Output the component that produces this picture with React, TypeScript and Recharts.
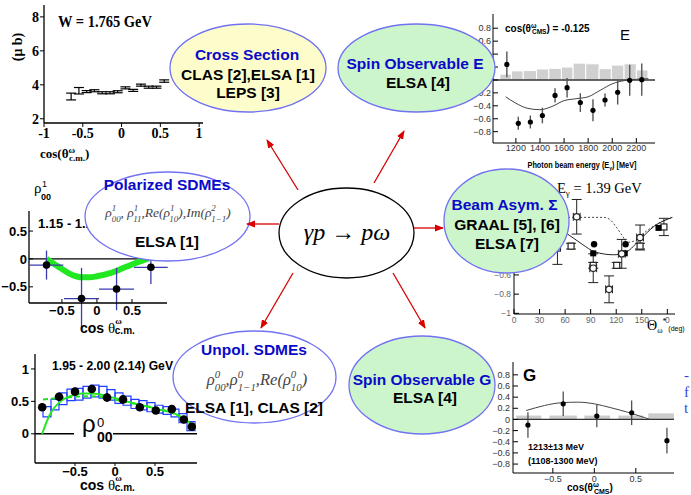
import React from "react";
import {
  ComposedChart,
  XAxis,
  YAxis,
  Line,
  Scatter,
  ErrorBar,
  ReferenceArea,
  ReferenceLine,
} from "recharts";

const SANS = "'Liberation Sans', Arial, sans-serif";
const SERIF = "'Liberation Serif', 'Times New Roman', serif";

// cross section, W = 1.765 GeV
const csCos = [-0.65, -0.55, -0.45, -0.35, -0.25, -0.15, -0.05, 0.05, 0.15, 0.25, 0.35, 0.45, 0.55];
const csVal = [3.31, 3.65, 3.6, 3.65, 3.53, 3.53, 3.59, 3.82, 3.67, 3.98, 3.86, 3.86, 4.22];
const csErr = [0.2, 0.19, 0.06, 0.06, 0.06, 0.06, 0.06, 0.06, 0.06, 0.06, 0.06, 0.06, 0.07];

// spin observable E, cos = -0.125
const eEnergy = [1125, 1220, 1320, 1420, 1525, 1625, 1735, 1840, 1940, 2045, 2145, 2245];
const eVal = [0.24, -0.67, -0.65, -0.55, -0.24, -0.12, -0.35, -0.47, -0.31, -0.19, -0.005, 0.005];
const eErr = [0.2, 0.1, 0.1, 0.12, 0.11, 0.15, 0.145, 0.17, 0.1, 0.19, 0.24, 0.25];
const eSysEdges = [1067, 1164, 1261, 1371, 1473, 1578, 1675, 1780, 1891, 1993, 2098, 2200, 2297];
const eSys = [0.09, 0.14, 0.145, 0.17, 0.18, 0.2, 0.26, 0.25, 0.175, 0.23, 0.25, 0.155];
const eModelE = [1115, 1200, 1300, 1400, 1500, 1600, 1700, 1800, 1900, 2000, 2100, 2200, 2300];
const eModel = [-0.26, -0.36, -0.44, -0.46, -0.41, -0.32, -0.29, -0.26, -0.16, -0.06, -0.01, 0.01, 0.02];

// polarized rho^1_00, 1.15 - 1.25 GeV
const pCos = [-0.72, -0.22, 0.28, 0.77];
const pVal = [-0.11, -0.71, -0.54, -0.15];
const pErrY = [0.26, 0.55, 0.38, 0.3];
const pErrX = [0.24, 0.25, 0.25, 0.24];
const pFitCos = [-0.72, -0.6, -0.5, -0.4, -0.3, -0.2, -0.1, 0, 0.2, 0.4, 0.6, 0.75];
const pFit = [0.0, -0.1, -0.18, -0.26, -0.31, -0.33, -0.33, -0.31, -0.25, -0.15, -0.05, 0.02];

// beam asymmetry, E_gamma = 1.39 GeV
const sOpenCircTh = [73.6, 93, 111.6, 126.5, 148];
const sOpenCircVal = [0.006, -0.53, -0.75, -0.38, -0.21];
const sOpenCircErr = [0.18, 0.15, 0.14, 0.15, 0.13];
const sOpenSqTh = [51, 67, 93, 120.6, 148, 176];
const sOpenSqVal = [-0.32, -0.3, -0.5, -0.5, -0.3, -0.1];
const sOpenSqErr = [0.17, 0.03, 0.03, 0.03, 0.03, 0.09];
const sFullCircTh = [94, 131];
const sFullCircVal = [-0.28, -0.28];
const sFullSqTh = [93, 130, 169.6];
const sFullSqVal = [-0.375, -0.375, -0.11];
const sSolidTh = [40, 59, 80, 95, 117, 132, 148, 165, 186];
const sSolid = [-0.05, -0.15, -0.28, -0.36, -0.39, -0.36, -0.23, -0.09, 0];
const sDotTh = [40, 70, 105, 112, 120, 127, 133, 140, 150, 164, 186];
const sDot = [0, 0, 0, -0.02, -0.1, -0.19, -0.26, -0.25, -0.18, -0.09, 0];

// unpolarized rho^0_00, 1.95 - 2.00 GeV
const uCos = [-0.91, -0.7, -0.5, -0.29, -0.1, 0.1, 0.31, 0.51, 0.71, 0.86, 0.96];
const uVal = [0.41, 0.57, 0.65, 0.69, 0.56, 0.53, 0.41, 0.36, 0.38, 0.22, 0.11];
const uErr = [0.06, 0.05, 0.05, 0.05, 0.07, 0.05, 0.04, 0.04, 0.04, 0.04, 0.04];
const clasCos = [-0.85, -0.75, -0.65, -0.55, -0.45, -0.35, -0.25, -0.15, -0.05, 0.05, 0.15, 0.25, 0.35, 0.45, 0.55, 0.65, 0.75, 0.85, 0.95];
const clasVal = [0.34, 0.45, 0.54, 0.6, 0.61, 0.64, 0.66, 0.64, 0.6, 0.55, 0.51, 0.46, 0.44, 0.41, 0.38, 0.36, 0.32, 0.24, 0.12];
const clasErr = [0.08, 0.08, 0.09, 0.09, 0.09, 0.09, 0.09, 0.09, 0.08, 0.08, 0.07, 0.07, 0.07, 0.07, 0.06, 0.06, 0.06, 0.07, 0.07];
const uFitCos = [-0.91, -0.85, -0.8, -0.7, -0.6, -0.5, -0.4, -0.3, -0.2, -0.1, 0, 0.1, 0.2, 0.3, 0.4, 0.5, 0.6, 0.7, 0.8, 0.9, 1.0];
const uFit = [0, 0.2, 0.33, 0.48, 0.56, 0.6, 0.62, 0.62, 0.61, 0.58, 0.55, 0.52, 0.48, 0.45, 0.42, 0.39, 0.36, 0.33, 0.28, 0.2, 0.08];
const uFit2Cos = [-0.9, -0.7, -0.5, -0.3, -0.1, 0.1, 0.3, 0.5, 0.7, 0.9, 1.0];
const uFit2 = [0.53, 0.55, 0.57, 0.58, 0.55, 0.5, 0.45, 0.4, 0.33, 0.2, 0.1];

// spin observable G, 1213 MeV
const gCos = [-0.8, -0.375, 0.03, 0.45, 0.875];
const gVal = [-0.1, 0.28, 0.06, 0.12, -0.38];
const gErr = [0.23, 0.22, 0.2, 0.22, 0.23];
const gSysLo = [-0.94, -0.54, -0.12, 0.29, 0.65];
const gSysHi = [-0.64, -0.21, 0.19, 0.59, 0.98];
const gSys = [0.07, 0.07, 0.07, 0.07, 0.11];
const gModelCos = [-0.82, -0.6, -0.4, -0.2, 0, 0.2, 0.4, 0.55, 0.67];
const gModel = [0.16, 0.25, 0.3, 0.31, 0.28, 0.21, 0.13, 0.06, 0.0];

type Box = { x: number; y: number; w: number; h: number };
const YW = 44;
const XH = 30;
const PAD = 4;

const B1: Box = { x: 44, y: 5, w: 159, h: 118 };
const B2: Box = { x: 493, y: 14, w: 162, h: 129 };
const B3: Box = { x: 29, y: 211, w: 138, h: 92 };
const B4: Box = { x: 514, y: 178, w: 161, h: 136 };
const B5: Box = { x: 35, y: 354, w: 162, h: 109 };
const B6: Box = { x: 513, y: 362, w: 161, h: 111 };

function place(b: Box) {
  return {
    style: { position: "absolute" as const, left: b.x - YW, top: b.y - PAD },
    width: b.w + YW + PAD,
    height: b.h + PAD + XH,
    margin: { top: PAD, right: PAD, bottom: 0, left: 0 },
  };
}

const minus = (v: number) => (v < 0 ? "\u2212" + String(-v) : String(v));
// labels that sit under a bubble in the original are left blank
const minusExcept = (hidden: number[]) => (v: number) => (hidden.includes(v) ? "" : minus(v));

const serifTick = { fontSize: 14, fontWeight: 700, fill: "#000", fontFamily: SERIF };
const boldTick = { fontSize: 13, fontWeight: 700, fill: "#000", fontFamily: SANS };
const rootTick = { fontSize: 9, fill: "#333", fontFamily: SANS };
const black = { stroke: "#000", strokeWidth: 1.3 };

const noDot = () => <g />;
const dot = (r: number, fill = "#000", stroke = "none") => (p: any) => (
  <circle cx={p.cx} cy={p.cy} r={r} fill={fill} stroke={stroke} strokeWidth={1.2} />
);
const square = (s: number, fill = "#000", stroke = "none") => (p: any) => (
  <rect x={p.cx - s / 2} y={p.cy - s / 2} width={s} height={s} fill={fill} stroke={stroke} strokeWidth={1.2} />
);

// box edges on top and right, with inward ticks
function frame(xd: number[], yd: number[], xt?: number[], yt?: number[], tickLen = 0) {
  const tl = tickLen > 0 ? { stroke: "#000" } : false;
  return [
    <XAxis key="top" xAxisId="top" orientation="top" type="number" domain={xd} allowDataOverflow height={0}
      ticks={xt} interval={0} tick={false} tickLine={tl} tickSize={-tickLen} axisLine={black} />,
    <YAxis key="right" yAxisId="right" orientation="right" type="number" domain={yd} allowDataOverflow width={0}
      ticks={yt} interval={0} tick={false} tickLine={tl} tickSize={-tickLen} axisLine={black} />,
  ];
}

const zip = (xs: number[], ys: number[], es?: number[], ex?: number[]) =>
  xs.map((x, i) => ({ x, y: ys[i], e: es ? es[i] : 0, ex: ex ? ex[i] : 0 }));

function CrossSection() {
  const p = place(B1);
  const xd = [-1, 1.05];
  const yd = [1.75, 8.7];
  return (
    <div style={p.style}>
      <ComposedChart width={p.width} height={p.height} margin={p.margin}>
        <XAxis type="number" dataKey="x" domain={xd} ticks={[-1, -0.5, 0, 0.5, 1]} interval={0} allowDataOverflow
          height={XH} tick={serifTick} tickSize={4} tickMargin={1} axisLine={black} tickLine={{ stroke: "#000" }} />
        <YAxis type="number" dataKey="y" domain={yd} ticks={[2, 4, 6, 8]} interval={0} allowDataOverflow
          width={YW} tick={serifTick} tickSize={4} tickMargin={1} axisLine={black} tickLine={{ stroke: "#000" }} />
        {frame(xd, yd)}
        <Scatter data={zip(csCos, csVal, csErr)} dataKey="y" shape={noDot} isAnimationActive={false}>
          <ErrorBar dataKey="e" direction="y" width={5} stroke="#000" strokeWidth={1.2} />
        </Scatter>
      </ComposedChart>
    </div>
  );
}

function SpinE() {
  const p = place(B2);
  const xd = [1010, 2355];
  const yd = [-0.975, 1.02];
  return (
    <div style={p.style}>
      <ComposedChart width={p.width} height={p.height} margin={p.margin}>
        <XAxis type="number" dataKey="x" domain={xd} ticks={[1200, 1400, 1600, 1800, 2000, 2200]} interval={0}
          allowDataOverflow height={XH} tick={rootTick} tickSize={-5} tickMargin={7} axisLine={{ stroke: "#000" }}
          tickLine={{ stroke: "#000" }} />
        <YAxis type="number" dataKey="y" domain={yd} ticks={[-0.8, -0.6, -0.4, -0.2, 0, 0.2, 0.4, 0.6, 0.8]}
          interval={0} allowDataOverflow width={YW} tick={rootTick} tickSize={-5} tickMargin={7}
          tickFormatter={minusExcept([0, 0.2, 0.4])} axisLine={{ stroke: "#000" }} tickLine={{ stroke: "#000" }} />
        {frame(xd, yd, [1100, 1200, 1300, 1400, 1500, 1600, 1700, 1800, 1900, 2000, 2100, 2200, 2300],
          [-0.8, -0.6, -0.4, -0.2, 0, 0.2, 0.4, 0.6, 0.8], 4)}
        {eSys.map((h, i) => (
          <ReferenceArea key={i} x1={eSysEdges[i]} x2={eSysEdges[i + 1]} y1={0} y2={h} fill="#d0d0d0"
            fillOpacity={1} stroke="#fff" strokeWidth={1} ifOverflow="hidden" />
        ))}
        <ReferenceLine y={0} stroke="#333" strokeWidth={1.5} />
        <Line data={zip(eModelE, eModel)} dataKey="y" type="monotone" dot={false} stroke="#444" strokeWidth={1}
          isAnimationActive={false} />
        <Scatter data={zip(eEnergy, eVal, eErr)} dataKey="y" shape={dot(2.6)} isAnimationActive={false}>
          <ErrorBar dataKey="e" direction="y" width={0} stroke="#555" strokeWidth={1.4} />
        </Scatter>
      </ComposedChart>
    </div>
  );
}

function PolSdme() {
  const p = place(B3);
  const xd = [-0.97, 1.0];
  const yd = [-0.79, 0.86];
  return (
    <div style={p.style}>
      <ComposedChart width={p.width} height={p.height} margin={p.margin}>
        <XAxis type="number" dataKey="x" domain={xd} ticks={[-0.5, 0, 0.5]} interval={0} allowDataOverflow
          height={XH} tick={boldTick} tickSize={-4} tickMargin={7} tickFormatter={minus} axisLine={black}
          tickLine={{ stroke: "#000" }} />
        <YAxis type="number" dataKey="y" domain={yd} ticks={[-0.5, 0, 0.5]} interval={0} allowDataOverflow
          width={YW} tick={boldTick} tickSize={-4} tickMargin={6} tickFormatter={minus} axisLine={black}
          tickLine={{ stroke: "#000" }} />
        {frame(xd, yd)}
        <ReferenceLine y={0} stroke="#000" strokeWidth={1.2} />
        <Line data={zip(pFitCos, pFit)} dataKey="y" type="monotone" dot={false} stroke="#22e822" strokeWidth={6}
          isAnimationActive={false} />
        <Scatter data={zip(pCos, pVal, pErrY, pErrX)} dataKey="y" shape={dot(3.8)} isAnimationActive={false}>
          <ErrorBar dataKey="e" direction="y" width={0} stroke="#3a3ab0" strokeWidth={1.3} />
          <ErrorBar dataKey="ex" direction="x" width={0} stroke="#3a3ab0" strokeWidth={1.3} />
        </Scatter>
      </ComposedChart>
    </div>
  );
}

function BeamAsym() {
  const p = place(B4);
  const xd = [0, 189];
  const yd = [-1.007, 0.41];
  const tick = { fontSize: 8.5, fill: "#666", fontFamily: SANS };
  return (
    <div style={p.style}>
      <ComposedChart width={p.width} height={p.height} margin={p.margin}>
        <XAxis type="number" dataKey="x" domain={xd} ticks={[0, 30, 60, 90, 120, 150, 180]} interval={0}
          allowDataOverflow height={XH} tick={tick} tickSize={-5} tickMargin={8}
          tickFormatter={(v: number) => (v === 180 ? "0" : String(v))} axisLine={{ stroke: "#000" }}
          tickLine={{ stroke: "#000" }} />
        <YAxis type="number" dataKey="y" domain={yd} ticks={[-1, -0.8, -0.6, -0.4, -0.2, 0, 0.2, 0.4]}
          interval={0} allowDataOverflow width={YW} tick={tick} tickSize={-5} tickMargin={8}
          tickFormatter={minusExcept([-0.4, -0.2, 0, 0.2, 0.4])} axisLine={{ stroke: "#000" }}
          tickLine={{ stroke: "#000" }} />
        {frame(xd, yd, [0, 30, 60, 90, 120, 150, 180], [-1, -0.8, -0.6, -0.4, -0.2, 0, 0.2, 0.4], 4)}
        <Line data={zip(sDotTh, sDot)} dataKey="y" type="monotone" dot={false} stroke="#333" strokeWidth={0.9}
          strokeDasharray="2 2" isAnimationActive={false} />
        <Line data={zip(sSolidTh, sSolid)} dataKey="y" type="monotone" dot={false} stroke="#222" strokeWidth={1}
          isAnimationActive={false} />
        <Scatter data={zip(sOpenSqTh, sOpenSqVal, sOpenSqErr)} dataKey="y" shape={square(6, "#fff", "#222")}
          isAnimationActive={false}>
          <ErrorBar dataKey="e" direction="y" width={5} stroke="#222" strokeWidth={1} />
        </Scatter>
        <Scatter data={zip(sFullSqTh, sFullSqVal)} dataKey="y" shape={square(6)} isAnimationActive={false} />
        <Scatter data={zip(sFullCircTh, sFullCircVal)} dataKey="y" shape={dot(3.2)} isAnimationActive={false} />
        <Scatter data={zip(sOpenCircTh, sOpenCircVal, sOpenCircErr, sOpenCircTh.map(() => 4))} dataKey="y"
          shape={dot(3.2, "#fff", "#222")} isAnimationActive={false}>
          <ErrorBar dataKey="e" direction="y" width={5} stroke="#222" strokeWidth={1} />
          <ErrorBar dataKey="ex" direction="x" width={4} stroke="#222" strokeWidth={1} />
        </Scatter>
      </ComposedChart>
    </div>
  );
}

function UnpolSdme() {
  const p = place(B5);
  const xd = [-1, 1.025];
  const yd = [-0.45, 1.23];
  return (
    <div style={p.style}>
      <ComposedChart width={p.width} height={p.height} margin={p.margin}>
        <XAxis type="number" dataKey="x" domain={xd} ticks={[-0.5, 0, 0.5]} interval={0} allowDataOverflow
          height={XH} tick={boldTick} tickSize={3} tickMargin={1} tickFormatter={minus} axisLine={black}
          tickLine={{ stroke: "#000" }} />
        <YAxis type="number" dataKey="y" domain={yd} ticks={[0, 0.5, 1]} interval={0} allowDataOverflow
          width={YW} tick={boldTick} tickSize={4} tickMargin={2} tickFormatter={minus} axisLine={black}
          tickLine={{ stroke: "#000" }} />
        {frame(xd, yd)}
        <ReferenceLine y={0} stroke="#000" strokeWidth={1.5} />
        {clasCos.map((c, i) => (
          <ReferenceArea key={i} x1={c - 0.05} x2={c + 0.05} y1={clasVal[i] - clasErr[i]} y2={clasVal[i] + clasErr[i]}
            fill="none" stroke="#2040ff" strokeWidth={1.2} ifOverflow="hidden" />
        ))}
        <Line data={zip(uFit2Cos, uFit2)} dataKey="y" type="monotone" dot={false} stroke="#22dd22" strokeWidth={2}
          strokeDasharray="5 3" isAnimationActive={false} />
        <Line data={zip(uFitCos, uFit)} dataKey="y" type="monotone" dot={false} stroke="#22e822" strokeWidth={2}
          isAnimationActive={false} />
        <Scatter data={zip(uCos, uVal, uErr)} dataKey="y" shape={dot(4.3)} isAnimationActive={false}>
          <ErrorBar dataKey="e" direction="y" width={0} stroke="#000" strokeWidth={1.2} />
        </Scatter>
      </ComposedChart>
    </div>
  );
}

function SpinG() {
  const p = place(B6);
  const xd = [-0.98, 0.96];
  const yd = [-0.96, 1.03];
  const yt = [-0.8, -0.6, -0.4, -0.2, 0, 0.2, 0.4, 0.6, 0.8];
  return (
    <div style={p.style}>
      <ComposedChart width={p.width} height={p.height} margin={p.margin}>
        <XAxis type="number" dataKey="x" domain={xd} ticks={[-0.5, 0, 0.5]} interval={0} allowDataOverflow
          height={XH} tick={rootTick} tickSize={-5} tickMargin={8} tickFormatter={minus}
          axisLine={{ stroke: "#000" }} tickLine={{ stroke: "#000" }} />
        <YAxis type="number" dataKey="y" domain={yd} ticks={yt} interval={0} allowDataOverflow width={YW}
          tick={rootTick} tickSize={-5} tickMargin={8} tickFormatter={minus} axisLine={{ stroke: "#000" }}
          tickLine={{ stroke: "#000" }} />
        {frame(xd, yd, [-0.8, -0.6, -0.4, -0.2, 0, 0.2, 0.4, 0.6, 0.8], yt, 4)}
        {gSys.map((h, i) => (
          <ReferenceArea key={i} x1={gSysLo[i]} x2={gSysHi[i]} y1={0} y2={h} fill="#cccccc" fillOpacity={1}
            stroke="none" ifOverflow="hidden" />
        ))}
        <ReferenceLine y={0} stroke="#333" strokeWidth={1.2} />
        <Line data={zip(gModelCos, gModel)} dataKey="y" type="monotone" dot={false} stroke="#444" strokeWidth={1}
          isAnimationActive={false} />
        <Scatter data={zip(gCos, gVal, gErr)} dataKey="y" shape={dot(2.6)} isAnimationActive={false}>
          <ErrorBar dataKey="e" direction="y" width={0} stroke="#444" strokeWidth={1.2} />
        </Scatter>
      </ComposedChart>
    </div>
  );
}

// inline math: [text, sup, sub] pieces
function math(parts: string[][], fs: number) {
  const s = fs * 0.66;
  const up = fs * 0.42;
  const down = fs * 0.34;
  const out: React.ReactNode[] = [];
  let back = 0;
  parts.forEach(([t, sup, sub], i) => {
    out.push(<tspan key={i + "t"} dy={back}>{t}</tspan>);
    back = 0;
    if (sup !== undefined) {
      out.push(<tspan key={i + "u"} dy={-up} fontSize={s}>{sup}</tspan>);
      out.push(
        <tspan key={i + "d"} dx={-sup.length * s * 0.5} dy={up + down} fontSize={s}>{sub}</tspan>
      );
      back = -down;
    }
  });
  return out;
}

const BLUE = "#0a0ac8";
const EDGE = "#7272f2";
const GREEN = "#ccf5cc";

function Bubble({ cx, cy, rx, ry, fill, stroke = EDGE }: any) {
  return <ellipse cx={cx} cy={cy} rx={rx} ry={ry} fill={fill} stroke={stroke} strokeWidth={1.3} />;
}

function Label({ x, y, children, size = 15.5, fill = "#000", anchor = "middle", weight = 700, family = SANS, ...rest }: any) {
  return (
    <text x={x} y={y} fontSize={size} fill={fill} textAnchor={anchor} fontWeight={weight} fontFamily={family} {...rest}>
      {children}
    </text>
  );
}

const arrows = [
  [298, 190, 267, 140],
  [374, 183, 404, 131],
  [279, 224, 247, 224],
  [414, 228, 443, 228],
  [293, 273, 261, 328],
  [393, 273, 425, 328],
];

function Diagram() {
  return (
    <svg width={691} height={495} style={{ position: "absolute", left: 0, top: 0 }}>
      <defs>
        <marker id="ah" markerWidth="9" markerHeight="8" refX="8" refY="4" orient="auto" markerUnits="userSpaceOnUse">
          <path d="M0,0.5 L9,4 L0,7.5 z" fill="#d80000" />
        </marker>
      </defs>

      {/* panel titles and axis labels */}
      <Label x={58} y={27} size={16} family={SERIF} anchor="start" textLength={94} lengthAdjust="spacingAndGlyphs">W = 1.765 GeV</Label>
      <text x={22} y={47} fontSize={14} fontWeight={700} fontFamily={SERIF} textAnchor="middle" transform="rotate(-90 22 47)">(μ b)</text>
      <text x={40} y={158} fontSize={13} fontWeight={700} fontFamily={SERIF}>
        cos(θ<tspan dy={-5} fontSize={9}>ω</tspan><tspan dx={-6} dy={8} fontSize={9}>c.m.</tspan><tspan dy={-3}>)</tspan>
      </text>

      <Label x={505} y={32} size={10} anchor="start">cos(θ<tspan dy={-4} fontSize={6.5}>ω</tspan><tspan dx={-4.5} dy={6} fontSize={6.5}>CMS</tspan><tspan dy={-2}>) = -0.125</tspan></Label>
      <Label x={620} y={40} size={15} anchor="start" weight={400}>E</Label>
      <Label x={582} y={168} size={8.5} textLength={109} lengthAdjust="spacingAndGlyphs">Photon beam energy (E<tspan dy={2} fontSize={6}>γ</tspan><tspan dy={-2}>) [MeV]</tspan></Label>

      <Label x={38} y={228} size={13} anchor="start">1.15 - 1.25 GeV</Label>
      <text x={34} y={193} fontSize={15} fontFamily={SERIF}>ρ</text>
      <text x={42} y={187} fontSize={9} fontFamily={SANS}>1</text>
      <text x={41} y={200} fontSize={9} fontWeight={700} fontFamily={SANS}>00</text>
      <text x={80} y={333} fontSize={14} fontWeight={700} fontFamily={SANS}>
        cos <tspan fontFamily={SERIF} fontWeight={400} fontSize={15}>θ</tspan>
        <tspan dy={-9} fontSize={9} fontFamily={SERIF}>ω</tspan>
        <tspan dx={-7} dy={10} fontSize={10}>c.m.</tspan>
      </text>

      <Label x={557} y={193} size={14.5} family={SERIF} weight={400} anchor="start">E<tspan dy={3} fontSize={9}>γ</tspan><tspan dy={-3}> = 1.39 GeV</tspan></Label>
      <text x={647} y={330} fontSize={14} fontFamily={SERIF}>Θ<tspan dy={3} fontSize={8}>ω</tspan><tspan dy={-9} fontSize={8}>*</tspan><tspan dy={7} fontSize={7} fontFamily={SANS}> (deg)</tspan></text>

      <Label x={52} y={370} size={12} anchor="start" textLength={121} lengthAdjust="spacingAndGlyphs">1.95 - 2.00 (2.14) GeV</Label>
      <rect x={74} y={424} width={39} height={18} fill="#fff" />
      <text x={82} y={432} fontSize={24} fontFamily={SANS}>ρ</text>
      <text x={97} y={427} fontSize={13} fontFamily={SANS}>0</text>
      <text x={97} y={442} fontSize={14} fontWeight={700} fontFamily={SANS}>00</text>
      <text x={80} y={490} fontSize={14} fontWeight={700} fontFamily={SANS}>
        cos <tspan fontFamily={SERIF} fontWeight={400} fontSize={15}>θ</tspan>
        <tspan dy={-9} fontSize={9} fontFamily={SERIF}>ω</tspan>
        <tspan dx={-7} dy={10} fontSize={10}>c.m.</tspan>
      </text>

      <Label x={523} y={381} size={17} anchor="start">G</Label>
      <Label x={528} y={450} size={9} anchor="start">1213±13 MeV</Label>
      <Label x={528} y={464} size={9} anchor="start">(1108-1300 MeV)</Label>
      <Label x={567} y={491} size={10} anchor="start">cos(θ<tspan dy={-4} fontSize={7}>ω</tspan><tspan dx={-5} dy={7} fontSize={7}>CMS</tspan><tspan dy={-3}>)</tspan></Label>

      <Label x={684} y={380} size={15} family={SERIF} weight={400} fill="#3344dd" anchor="start">-</Label>
      <Label x={684} y={397} size={15} family={SERIF} weight={400} fill="#3344dd" anchor="start">f</Label>
      <Label x={684} y={413} size={15} family={SERIF} weight={400} fill="#3344dd" anchor="start">t</Label>

      {/* bubbles */}
      <Bubble cx={248} cy={68} rx={78} ry={44} fill="#fdfdcc" />
      <Label x={247} y={60} fill={BLUE}>Cross Section</Label>
      <Label x={248} y={80}>CLAS [2],ELSA [1]</Label>
      <Label x={248} y={98}>LEPS [3]</Label>

      <Bubble cx={416.5} cy={68} rx={78.5} ry={44} fill={GREEN} />
      <Label x={415} y={69} fill={BLUE}>Spin Observable E</Label>
      <Label x={418} y={88}>ELSA [4]</Label>

      <Bubble cx={167.5} cy={216.5} rx={82.5} ry={44.5} fill="#fff" />
      <Label x={167} y={190} fill={BLUE}>Polarized SDMEs</Label>
      <text x={168} y={217} fontSize={13.5} fontStyle="italic" fontFamily={SERIF} fill="#444" textAnchor="middle">
        {math([["ρ", "1", "00"], [", ρ", "1", "11"], [",Re(ρ", "1", "10"], ["),Im(ρ", "2", "1\u22121"], [")"]], 13.5)}
      </text>
      <Label x={167} y={247}>ELSA [1]</Label>

      <Bubble cx={346.5} cy={233} rx={67.5} ry={45} fill="#fff" stroke="#000" />
      <text x={347} y={240} fontSize={24} fontStyle="italic" fontFamily={SERIF} textAnchor="middle">γp → pω</text>

      <Bubble cx={506.5} cy={221} rx={62.5} ry={52} fill={GREEN} />
      <Label x={504.5} y={210} fill={BLUE}>Beam Asym. Σ</Label>
      <Label x={507} y={230}>GRAAL [5], [6]</Label>
      <Label x={507} y={249}>ELSA [7]</Label>

      <Bubble cx={254.5} cy={377} rx={81.5} ry={46} fill="#fff" />
      <Label x={254} y={355} fill={BLUE}>Unpol. SDMEs</Label>
      <text x={257} y={385} fontSize={16.5} fontStyle="italic" fontFamily={SERIF} fill="#444" textAnchor="middle">
        {math([["ρ", "0", "00"], [",ρ", "0", "1\u22121"], [",Re(ρ", "0", "10"], [")"]], 16.5)}
      </text>
      <Label x={254} y={413}>ELSA [1], CLAS [2]</Label>

      <Bubble cx={422} cy={385} rx={73} ry={49} fill={GREEN} />
      <Label x={422} y={385} fill={BLUE}>Spin Observable G</Label>
      <Label x={425} y={403}>ELSA [4]</Label>

      {arrows.map(([x1, y1, x2, y2], i) => (
        <line key={i} x1={x1} y1={y1} x2={x2} y2={y2} stroke="#d80000" strokeWidth={1.3} markerEnd="url(#ah)" />
      ))}
    </svg>
  );
}

export default function App() {
  return (
    <div style={{ position: "absolute", left: 0, top: 0, width: 691, height: 495, background: "#fff", overflow: "hidden" }}>
      <CrossSection />
      <SpinE />
      <PolSdme />
      <BeamAsym />
      <UnpolSdme />
      <SpinG />
      <Diagram />
    </div>
  );
}
